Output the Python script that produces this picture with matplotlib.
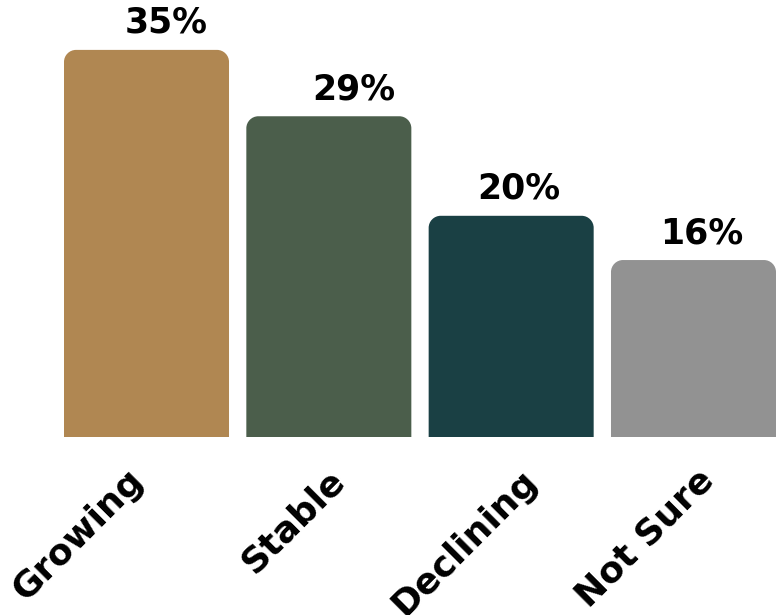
import numpy as np
import matplotlib.pyplot as plt
from matplotlib.path import Path
from matplotlib.patches import PathPatch

categories = ["Growing", "Stable", "Declining", "Not Sure"]
values = [35, 29, 20, 16]
colors = ["#B08752", "#4B5E4B", "#1A4044", "#929292"]

plt.rcParams["font.family"] = ["DejaVu Sans"]

fig = plt.figure(figsize=(7.77, 6.15), dpi=100)
ax = fig.add_axes([64 / 777, (615 - 437) / 615, 712 / 777, 437 / 615])

x = np.arange(len(categories))
W = 0.905
bars = ax.bar(x, values, width=W, color="none")
ax.set_xlim(-W / 2, len(categories) - 1 + W / 2)
ax.set_ylim(0, 437 / 11.06)

# radius of rounded top corners, 12 px converted to data units
r_px = 12
px_x = (ax.get_xlim()[1] - ax.get_xlim()[0]) / 712
px_y = (ax.get_ylim()[1] - ax.get_ylim()[0]) / 437
rx, ry = r_px * px_x, r_px * px_y
k = 0.55

for b, c in zip(bars, colors):
    x0, w, h = b.get_x(), b.get_width(), b.get_height()
    x1 = x0 + w
    verts = [(x0, 0), (x0, h - ry),
             (x0, h - ry * (1 - k)), (x0 + rx * (1 - k), h), (x0 + rx, h),
             (x1 - rx, h),
             (x1 - rx * (1 - k), h), (x1, h - ry * (1 - k)), (x1, h - ry),
             (x1, 0), (x0, 0)]
    codes = [Path.MOVETO, Path.LINETO,
             Path.CURVE4, Path.CURVE4, Path.CURVE4,
             Path.LINETO,
             Path.CURVE4, Path.CURVE4, Path.CURVE4,
             Path.LINETO, Path.CLOSEPOLY]
    ax.add_patch(PathPatch(Path(verts, codes), facecolor=c, edgecolor="none"))

pt = 0.72  # points per pixel at 100 dpi
nudge = [20, 25, 8, 8]
for xi, v, dx in zip(x, values, nudge):
    ax.annotate(f"{v}%", (xi, v), xytext=(dx * pt, 10 * pt), textcoords="offset points",
                ha="center", va="bottom", fontsize=25, fontweight="bold")

tick_nudge = [-20, -2, 9, 3]
for xi, lab, dx in zip(x, categories, tick_nudge):
    ax.annotate(lab, (xi, 0), xytext=(dx * pt, -26 * pt), textcoords="offset points",
                ha="right", va="top", rotation=45, rotation_mode="anchor",
                fontsize=26, fontweight="bold")

ax.axis("off")
fig.savefig("out.png", dpi=100)
